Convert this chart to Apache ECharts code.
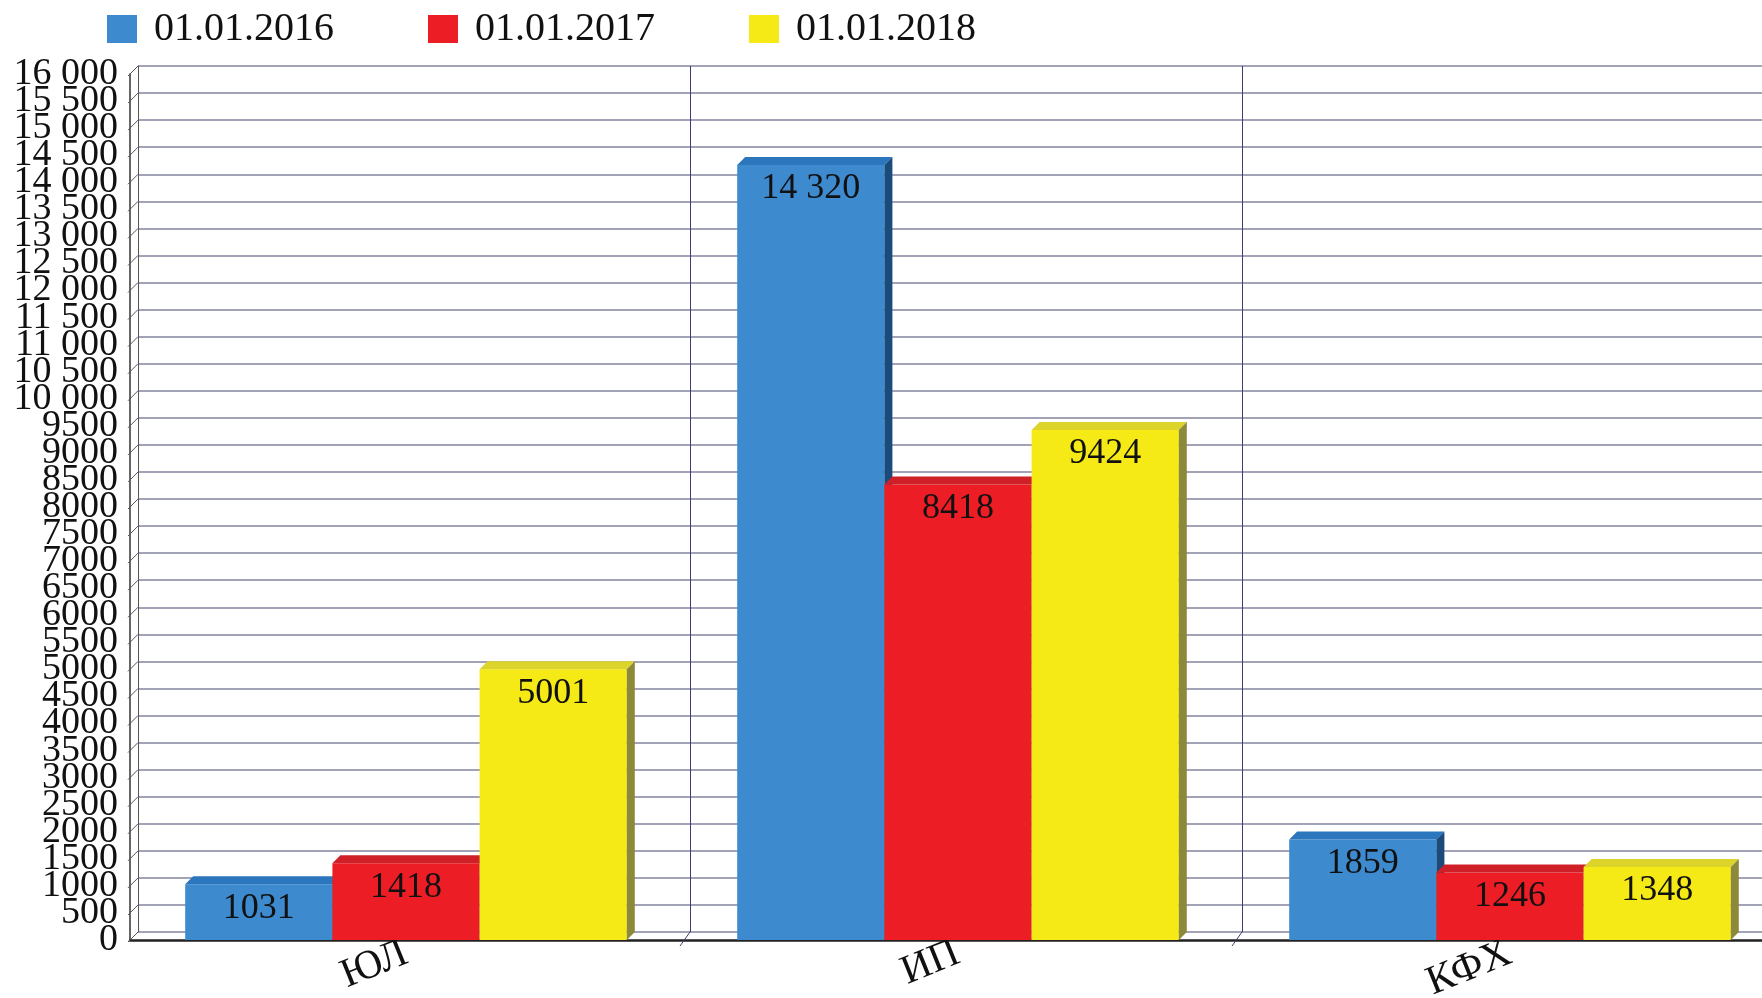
<!DOCTYPE html>
<html>
<head>
<meta charset="utf-8">
<script src="https://cdn.jsdelivr.net/npm/echarts@6/dist/echarts.min.js"></script>
<style>
  html, body { margin: 0; padding: 0; background: #fff; }
  #chart { width: 1762px; height: 998px; }
</style>
</head>
<body>
<div id="chart"></div>
<script>
// данные
const categories = ['ЮЛ', 'ИП', 'КФХ']
const seriesNames = ['01.01.2016', '01.01.2017', '01.01.2018']
const values2016 = [1031, 14320, 1859]
const values2017 = [1418, 8418, 1246]
const values2018 = [5001, 9424, 1348]
const yTicks = [0, 500, 1000, 1500, 2000, 2500, 3000, 3500, 4000, 4500, 5000, 5500, 6000, 6500, 7000, 7500, 8000,
  8500, 9000, 9500, 10000, 10500, 11000, 11500, 12000, 12500, 13000, 13500, 14000, 14500, 15000, 15500, 16000]
const boundaries = [1, 2]

// 3d depth offset
const DX = 8
const DY = 8
const FONT = '"Liberation Serif", "Times New Roman", serif'

const palette = [
  { front: '#3d8acf', top: '#2b76bd', side: '#1a4b7c' },
  { front: '#ec1d25', top: '#cf2027', side: '#8c1a1e' },
  { front: '#f5ea15', top: '#dcd42b', side: '#8d893b' }
]

function fmt(v) {
  const s = String(v)
  return v >= 10000 ? s.slice(0, s.length - 3) + ' ' + s.slice(-3) : s
}

function barRenderer(si) {
  const c = palette[si]
  return function (params, api) {
    const idx = api.value(0)
    const val = api.value(1)
    const base = api.coord([idx, 0])
    const top = api.coord([idx, val])
    const catW = api.size([1, 0])[0]
    const bw = catW * 0.8 / 3
    const x0 = base[0] - 1.5 * bw + si * bw
    const x1 = x0 + bw
    const yt = top[1]
    const yb = base[1]
    return {
      type: 'group',
      children: [
        { type: 'rect', shape: { x: x0, y: yt, width: bw, height: yb - yt }, style: { fill: c.front } },
        { type: 'polygon', shape: { points: [[x0, yt], [x0 + DX, yt - DY], [x1 + DX, yt - DY], [x1, yt]] }, style: { fill: c.top } },
        { type: 'polygon', shape: { points: [[x1, yt], [x1 + DX, yt - DY], [x1 + DX, yb - DY], [x1, yb]] }, style: { fill: c.side } },
        {
          type: 'text',
          style: {
            text: fmt(val), x: (x0 + x1) / 2, y: yt + 6,
            align: 'center', verticalAlign: 'top',
            fontSize: 36, fontFamily: FONT, fill: '#111'
          }
        }
      ]
    }
  }
}

const seriesValues = [values2016, values2017, values2018]

const barSeries = seriesValues.map((vals, si) => ({
  name: seriesNames[si],
  type: 'custom',
  xAxisIndex: 1,
  yAxisIndex: 1,
  itemStyle: { color: palette[si].front },
  renderItem: barRenderer(si),
  encode: { x: 0, y: 1 },
  data: vals.map((v, i) => [i, v]),
  z: 3 + si
}))

const chart = echarts.init(document.getElementById('chart'))

const gridW = 1656
const gridH = 866

chart.setOption({
  backgroundColor: '#fff',
  animation: false,
  legend: {
    data: seriesNames,
    left: 107,
    top: 9,
    padding: 0,
    icon: 'rect',
    itemWidth: 30,
    itemHeight: 28,
    itemGap: 94,
    textStyle: {
      fontSize: 40,
      fontFamily: FONT,
      color: '#111',
      padding: [0, 0, 0, 12]
    }
  },
  grid: [
    // задняя стенка
    { left: 130 + DX, top: 74 - DY, width: gridW, height: gridH, outerBoundsMode: 'none', containLabel: false },
    // передняя плоскость
    { left: 130, top: 74, width: gridW, height: gridH, outerBoundsMode: 'none', containLabel: false }
  ],
  xAxis: [
    {
      type: 'category',
      gridIndex: 0,
      data: categories,
      axisLine: { show: false },
      axisTick: { show: false },
      axisLabel: { show: false },
      splitLine: { show: true, lineStyle: { color: '#3c3c6e', width: 1 } }
    },
    {
      type: 'category',
      gridIndex: 1,
      data: categories,
      axisLine: { show: true, lineStyle: { color: '#222', width: 2.5 } },
      axisTick: { show: false },
      axisLabel: {
        rotate: 22,
        margin: 12,
        fontSize: 41,
        fontFamily: FONT,
        color: '#111'
      },
      splitLine: { show: false }
    }
  ],
  yAxis: [
    {
      type: 'value',
      gridIndex: 0,
      min: 0,
      max: 16000,
      interval: 500,
      axisLine: { show: true, lineStyle: { color: '#555', width: 1 } },
      axisTick: { show: false },
      axisLabel: { show: false },
      splitLine: { show: true, lineStyle: { color: '#85849f', width: 1.5 } }
    },
    {
      type: 'value',
      gridIndex: 1,
      min: 0,
      max: 16000,
      interval: 500,
      axisLine: { show: true, lineStyle: { color: '#333', width: 1.5 } },
      axisTick: { show: false },
      // подписи рисуются серией ticks, иначе echarts прячет 500 и 15 500
      axisLabel: { show: false },
      splitLine: { show: false }
    }
  ],
  series: [
    {
      name: 'ticks',
      type: 'custom',
      xAxisIndex: 1,
      yAxisIndex: 1,
      silent: true,
      encode: { y: 0 },
      data: yTicks.map(v => [v]),
      renderItem: (params, api) => {
        const x = params.coordSys.x
        const v = api.value(0)
        const y = api.coord([0, v])[1]
        return {
          type: 'group',
          children: [
            {
              type: 'line',
              shape: { x1: x - 2, y1: y + 2, x2: x + DX, y2: y - DY },
              style: { stroke: '#555', lineWidth: 1 }
            },
            {
              type: 'text',
              style: {
                text: fmt(v), x: x - 12, y: y,
                align: 'right', verticalAlign: 'middle',
                fontSize: 38, fontFamily: FONT, fill: '#111'
              }
            }
          ]
        }
      },
      z: 1
    },
    {
      name: 'floor',
      type: 'custom',
      xAxisIndex: 1,
      yAxisIndex: 1,
      silent: true,
      encode: { x: 0 },
      data: boundaries.map(b => [b]),
      renderItem: (params, api) => {
        const catW = api.size([1, 0])[0]
        const x = params.coordSys.x + api.value(0) * catW
        const y = params.coordSys.y + params.coordSys.height
        return {
          type: 'line',
          shape: { x1: x - 2, y1: y + 6, x2: x + DX, y2: y - DY },
          style: { stroke: '#3c3c6e', lineWidth: 1 }
        }
      },
      z: 1
    },
    ...barSeries
  ]
})
</script>
</body>
</html>
